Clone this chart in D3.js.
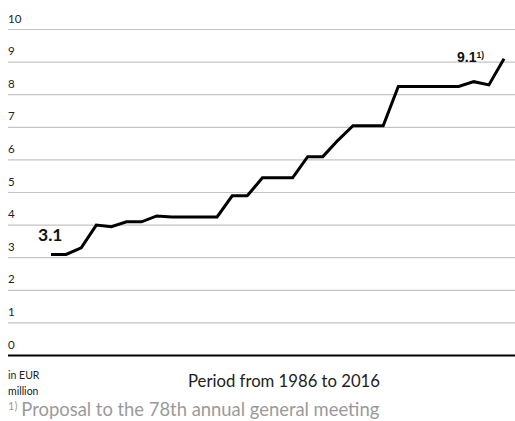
<!DOCTYPE html>
<html>
<head>
<meta charset="utf-8">
<script src="https://cdn.jsdelivr.net/npm/d3@7"></script>
<style>
  html, body { margin: 0; padding: 0; background: #fff; }
  svg { display: block; font-family: Lato, "Open Sans", sans-serif; }
</style>
</head>
<body>
<div id="chart"></div>
<script>
'use strict';

// dividend per year, EUR million
var years = d3.range(1986, 2017);
var values = [
    3.1, 3.1, 3.3, 4.0, 3.95, 4.1, 4.1, 4.28, 4.25, 4.25,
    4.25, 4.25, 4.9, 4.9, 5.45, 5.45, 5.45, 6.1, 6.1, 6.6,
    7.05, 7.05, 7.05, 8.25, 8.25, 8.25, 8.25, 8.25, 8.4, 8.3,
    9.1
];
var yTicks = [0, 1, 2, 3, 4, 5, 6, 7, 8, 9, 10];

var width = 515, height = 421;
var left = 8;

var svg = d3.select('#chart').append('svg')
    .attr('width', width)
    .attr('height', height);

var x = d3.scaleLinear()
    .domain([1986, 2016])
    .range([51, 504]);

var y = d3.scaleLinear()
    .domain([0, 10])
    .range([355.5, 29.5]);

// grid lines + labels
var grid = svg.append('g');
grid.selectAll('line')
    .data(yTicks.filter(function(d) { return d > 0; }))
    .enter().append('line')
    .attr('x1', left).attr('x2', width)
    .attr('y1', function(d) { return y(d); })
    .attr('y2', function(d) { return y(d); })
    .style('stroke', '#c4c4c4')
    .style('stroke-width', 1.2);

grid.selectAll('text')
    .data(yTicks)
    .enter().append('text')
    .attr('x', left)
    .attr('y', function(d) { return y(d) - 7; })
    .style('font-size', '11.5px')
    .style('fill', '#222')
    .text(function(d) { return d; });

// base line
svg.append('line')
    .attr('x1', left).attr('x2', width)
    .attr('y1', y(0)).attr('y2', y(0))
    .style('stroke', '#000')
    .style('stroke-width', 1.8);

var line = d3.line()
    .x(function(d, i) { return x(years[i]); })
    .y(function(d) { return y(d); });

svg.append('path')
    .datum(values)
    .attr('d', line)
    .style('fill', 'none')
    .style('stroke', '#000')
    .style('stroke-width', 3)
    .style('stroke-linejoin', 'miter');

// value labels
svg.append('text')
    .attr('x', x(years[0]) - 13)
    .attr('y', y(values[0]) - 13.5)
    .style('font-size', '17.5px')
    .style('font-weight', 'bold')
    .style('fill', '#111')
    .text(d3.format('.1f')(values[0]));

var last = svg.append('text')
    .attr('x', x(years[years.length - 1]) - 47)
    .attr('y', y(values[values.length - 1]) + 3.5)
    .style('font-family', '"Liberation Sans", Arial, sans-serif')
    .style('font-size', '14px')
    .style('font-weight', 'bold')
    .style('fill', '#111');
last.append('tspan').text(d3.format('.1f')(values[values.length - 1]));
last.append('tspan')
    .attr('dy', -4)
    .style('font-size', '8.5px')
    .text('1)');

// bottom texts
svg.append('text')
    .attr('x', left).attr('y', 379)
    .style('font-size', '10.5px')
    .style('fill', '#222')
    .text('in EUR');
svg.append('text')
    .attr('x', left).attr('y', 395)
    .style('font-size', '10.5px')
    .style('fill', '#222')
    .text('million');

svg.append('text')
    .attr('x', 284).attr('y', 387)
    .attr('text-anchor', 'middle')
    .style('font-size', '16.7px')
    .style('fill', '#222')
    .text('Period from ' + years[0] + ' to ' + years[years.length - 1]);

var foot = svg.append('text')
    .attr('x', left).attr('y', 416)
    .style('font-size', '18.4px')
    .style('fill', '#9a9a9a');
foot.append('tspan')
    .attr('dy', -6)
    .style('font-size', '11px')
    .text('1)');
foot.append('tspan')
    .attr('dy', 6)
    .attr('dx', 4)
    .text('Proposal to the 78th annual general meeting');
</script>
</body>
</html>
